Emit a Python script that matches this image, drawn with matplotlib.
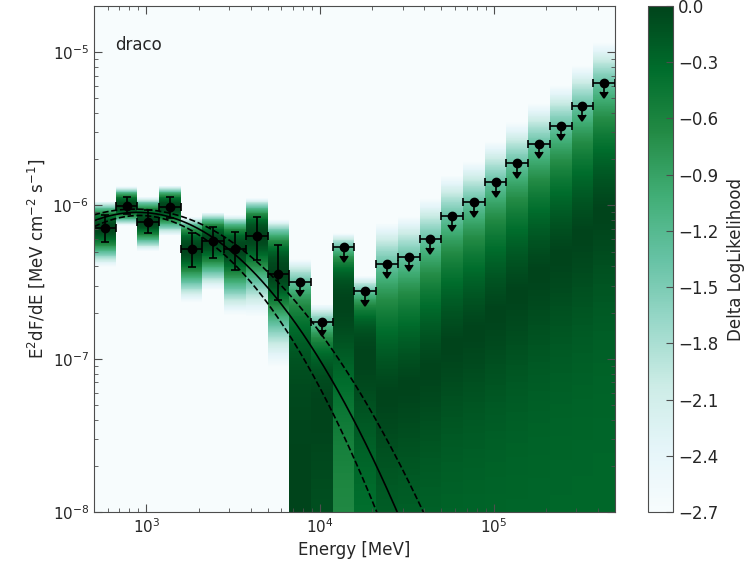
import numpy as np
import matplotlib
matplotlib.use('Agg')
import matplotlib.pyplot as plt
from matplotlib.ticker import NullFormatter, FuncFormatter

# energy bins [MeV], 8 per decade from 500 MeV to 500 GeV
energy_edges = [500, 667, 889, 1186, 1581, 2108, 2812, 3750, 5000,
                6668, 8891, 11857, 15811, 21085, 28117, 37495, 50000,
                66676, 88914, 118568, 158114, 210848, 281170, 374947, 500000]

# first 9 bins are detections: E^2 dF/dE and its 1 sigma bounds [MeV cm^-2 s^-1]
det_flux = [7.12e-7, 9.90e-7, 7.80e-7, 9.76e-7, 5.20e-7, 5.86e-7, 5.20e-7, 6.31e-7, 3.57e-7]
det_lo = [5.77e-7, 8.79e-7, 6.61e-7, 8.28e-7, 3.96e-7, 4.54e-7, 3.79e-7, 4.40e-7, 2.41e-7]
det_hi = [8.65e-7, 1.135e-6, 9.33e-7, 1.135e-6, 6.61e-7, 7.23e-7, 6.70e-7, 8.40e-7, 5.52e-7]

# remaining 15 bins: 95% upper limits, likelihood peak, delta loglike at zero flux
# and shape index of the profile above the peak
ul_flux = [3.17e-7, 1.74e-7, 5.35e-7, 2.76e-7, 4.15e-7, 4.61e-7, 6.04e-7, 8.53e-7,
           1.053e-6, 1.42e-6, 1.89e-6, 2.52e-6, 3.30e-6, 4.45e-6, 6.29e-6]
ul_peak = [0.0, 0.44e-7, 2.25e-7, 1.0e-7, 0.6e-7, 0.7e-7, 0.9e-7, 1.3e-7,
           1.6e-7, 2.1e-7, 2.8e-7, 3.8e-7, 5.0e-7, 6.7e-7, 9.4e-7]
ul_zero = [0.0, -0.16, -0.71, -0.44, -0.3, -0.3, -0.3, -0.3,
           -0.3, -0.3, -0.3, -0.3, -0.3, -0.3, -0.3]
ul_index = [2.0, 2.0, 2.0, 2.0, 1.0, 1.0, 1.0, 1.0,
            1.0, 1.0, 1.0, 1.0, 1.0, 1.0, 1.0]

# LogParabola fit (E^2 dF/dE at the pivot) and parameter errors
pivot = 1000.0
sed_pivot = 8.97e-7
alpha, beta = 2.087, 0.38
norm_err, alpha_err, beta_err = 0.046, 0.10, 0.065

source_name = 'draco'
dll_min = -2.7


def dloglike(flux, peak, scale_lo, scale_hi, index_hi):
    d = flux - peak
    lower = -0.5 * (d / scale_lo) ** 2
    upper = -0.5 * np.abs(d / scale_hi) ** index_hi
    return np.where(d < 0, lower, upper)


edges = np.array(energy_edges, dtype=float)
ectr = np.sqrt(edges[:-1] * edges[1:])
ndet = len(det_flux)

# castro: delta loglike of every bin on a flux grid
flux_edges = np.logspace(-8, np.log10(2e-5), 601)
flux_ctr = np.sqrt(flux_edges[:-1] * flux_edges[1:])
cols = []
for f, lo, hi in zip(det_flux, det_lo, det_hi):
    cols.append(dloglike(flux_ctr, f, f - lo, hi - f, 2.0))
for ul, pk, z, idx in zip(ul_flux, ul_peak, ul_zero, ul_index):
    s_hi = (ul - pk) / 2.7 ** (1.0 / idx)
    s_lo = pk / np.sqrt(-2 * z) if pk > 0 else s_hi
    cols.append(dloglike(flux_ctr, pk, s_lo, s_hi, idx))
dll = np.clip(np.array(cols).T, dll_min, 0)

fig = plt.figure(figsize=(7.53, 5.66), dpi=100)
ax = fig.add_axes([0.1248, 0.0954, 0.6919, 0.894])
cax = fig.add_axes([0.8606, 0.0954, 0.0332, 0.894])

mesh = ax.pcolormesh(edges, flux_edges, dll, cmap='BuGn', vmin=dll_min, vmax=0,
                     shading='flat', rasterized=True)

# fitted spectrum with its 1 sigma band
egrid = np.logspace(np.log10(edges[0]), np.log10(edges[-1]), 300)
lx = np.log10(egrid / pivot)
log_sed = np.log10(sed_pivot) + (2 - alpha) * lx - beta * np.log(10) * lx ** 2
band = np.sqrt((norm_err / np.log(10)) ** 2 + (alpha_err * lx) ** 2
               + (beta_err * np.log(10) * lx ** 2) ** 2)
ax.plot(egrid, 10 ** log_sed, color='k', lw=1.2)
ax.plot(egrid, 10 ** (log_sed + band), color='k', lw=1.2, ls='--')
ax.plot(egrid, 10 ** (log_sed - band), color='k', lw=1.2, ls='--')

# points
det_f = np.array(det_flux)
xerr = np.vstack([ectr - edges[:-1], edges[1:] - ectr])
ax.errorbar(ectr[:ndet], det_f, xerr=xerr[:, :ndet],
            yerr=[det_f - np.array(det_lo), np.array(det_hi) - det_f],
            fmt='o', color='k', ms=6, capsize=3, elinewidth=1.2, capthick=1.2)
ul_f = np.array(ul_flux)
ax.errorbar(ectr[ndet:], ul_f, xerr=xerr[:, ndet:], yerr=0.12 * ul_f, uplims=True,
            fmt='o', color='k', ms=6, capsize=3, elinewidth=1.2, capthick=1.2)

ax.set_xscale('log')
ax.set_yscale('log')
ax.set_xlim(edges[0], edges[-1])
ax.set_ylim(1e-8, 2e-5)
ax.xaxis.set_minor_formatter(NullFormatter())
ax.yaxis.set_minor_formatter(NullFormatter())
ax.tick_params(which='both', direction='in', top=True, right=True, labelsize=11,
               color='0.3', labelcolor='0.15')
ax.tick_params(which='major', length=6)
ax.tick_params(which='minor', length=3)
for sp in ax.spines.values():
    sp.set_color('0.3')

ax.set_xlabel('Energy [MeV]', fontsize=12, color='0.15')
ax.set_ylabel(r'E$^{2}$dF/dE [MeV cm$^{-2}$ s$^{-1}$]', fontsize=12, color='0.15')
ax.text(0.04, 0.94, source_name, transform=ax.transAxes, va='top', fontsize=12,
        color='0.15')

cb = fig.colorbar(mesh, cax=cax, ticks=np.linspace(dll_min, 0, 10))
cb.ax.yaxis.set_major_formatter(
    FuncFormatter(lambda v, p: ('%.1f' % (round(v, 1) + 0.0)).replace('-', '\u2212')))
cb.ax.tick_params(direction='in', length=5, labelsize=12, color='0.3',
                  labelcolor='0.15')
cb.outline.set_edgecolor('0.3')
cb.set_label('Delta LogLikelihood', fontsize=12, color='0.15', labelpad=6)

fig.savefig('out.png', dpi=100)
